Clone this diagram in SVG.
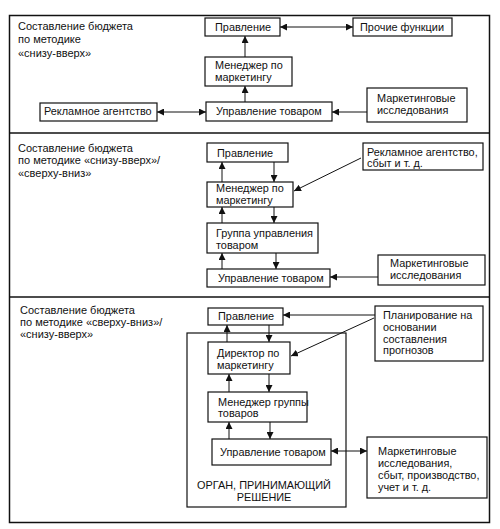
<svg xmlns="http://www.w3.org/2000/svg" width="500" height="529" viewBox="0 0 500 529">
<defs>
<marker id="ah" viewBox="0 0 10 10" refX="10" refY="5" markerWidth="7" markerHeight="7" markerUnits="userSpaceOnUse" orient="auto-start-reverse">
<path d="M0,0 L10,5 L0,10 z" fill="#111"/>
</marker>
</defs>
<style>
.frame{fill:none;stroke:#111;stroke-width:1.5}
.box rect{fill:#fff;stroke:#111;stroke-width:1.2}
text{font-family:"Liberation Sans",Arial,sans-serif;font-size:10.9px;fill:#111}
.title{font-size:11px}
.c line{stroke:#111;stroke-width:1}
.c .a{marker-end:url(#ah)}
.c .b{marker-start:url(#ah);marker-end:url(#ah)}
</style>
<rect width="500" height="529" fill="#fff"/>
<g id="frame">
<rect class="frame" x="9.5" y="15.5" width="480" height="507"/>
<line class="frame" x1="9.5" y1="133" x2="489.5" y2="133"/>
<line class="frame" x1="9.5" y1="297" x2="489.5" y2="297"/>
</g>
<g id="titles">
<text class="title" x="18" y="30">Составление бюджета</text>
<text class="title" x="18" y="43">по методике</text>
<text class="title" x="18" y="57">«снизу-вверх»</text>
<text class="title" x="18" y="152">Составление бюджета</text>
<text class="title" x="18" y="164">по методике «снизу-вверх»/</text>
<text class="title" x="18" y="177">«сверху-вниз»</text>
<text class="title" x="20" y="314">Составление бюджета</text>
<text class="title" x="20" y="326">по методике «сверху-вниз»/</text>
<text class="title" x="20" y="338">«снизу-вверх»</text>
</g>
<g id="organ">
<rect x="187" y="333" width="159" height="174" fill="none" stroke="#111" stroke-width="1.2"/>
<text x="264" y="489" text-anchor="middle">ОРГАН, ПРИНИМАЮЩИЙ</text>
<text x="264" y="501" text-anchor="middle">РЕШЕНИЕ</text>
</g>
<g id="connectors" class="c">
<line class="b" x1="280" y1="27" x2="353" y2="27"/>
<line class="a" x1="245" y1="57" x2="245" y2="36"/>
<line class="a" x1="245" y1="102" x2="245" y2="86"/>
<line class="b" x1="157" y1="112" x2="206" y2="112"/>
<line class="a" x1="367" y1="112" x2="332" y2="112"/>

<line class="a" x1="222" y1="182" x2="222" y2="162"/>
<line class="a" x1="274" y1="162" x2="274" y2="182"/>
<line class="a" x1="222" y1="223" x2="222" y2="207"/>
<line class="a" x1="274" y1="207" x2="274" y2="223"/>
<line class="a" x1="222" y1="269" x2="222" y2="253"/>
<line class="a" x1="276" y1="253" x2="276" y2="269"/>
<line class="a" x1="361" y1="158" x2="294" y2="191"/>
<line class="a" x1="378" y1="277" x2="330" y2="277"/>

<line class="a" x1="227" y1="342" x2="227" y2="325"/>
<line class="a" x1="269" y1="325" x2="269" y2="342"/>
<line class="a" x1="229" y1="392" x2="229" y2="374"/>
<line class="a" x1="269" y1="374" x2="269" y2="392"/>
<line class="a" x1="229" y1="439" x2="229" y2="422"/>
<line class="a" x1="270" y1="422" x2="270" y2="439"/>
<line class="a" x1="375" y1="315" x2="283" y2="315"/>
<line class="a" x1="374" y1="318" x2="291" y2="356"/>
<line class="b" x1="331" y1="451" x2="367" y2="451"/>
</g>
<g id="s1-pravlenie" class="box"><rect x="205" y="18" width="75" height="18"/><text x="215" y="31">Правление</text></g>
<g id="s1-prochie" class="box"><rect x="353" y="18" width="99" height="18"/><text x="360" y="31">Прочие функции</text></g>
<g id="s1-manager" class="box"><rect x="205" y="57" width="87" height="29"/><text x="215" y="69">Менеджер по</text><text x="215" y="81">маркетингу</text></g>
<g id="s1-upravlenie" class="box"><rect x="206" y="102" width="126" height="19"/><text x="216" y="115">Управление товаром</text></g>
<g id="s1-reklama" class="box"><rect x="40" y="103" width="117" height="18"/><text x="44" y="115">Рекламное агентство</text></g>
<g id="s1-issled" class="box"><rect x="367" y="88" width="100" height="34"/><text x="377" y="102">Маркетинговые</text><text x="377" y="114">исследования</text></g>

<g id="s2-pravlenie" class="box"><rect x="207" y="143" width="81" height="19"/><text x="217" y="157">Правление</text></g>
<g id="s2-manager" class="box"><rect x="207" y="182" width="86" height="25"/><text x="216" y="192">Менеджер по</text><text x="216" y="204">маркетингу</text></g>
<g id="s2-gruppa" class="box"><rect x="207" y="223" width="111" height="30"/><text x="216" y="237">Группа управления</text><text x="216" y="249">товаром</text></g>
<g id="s2-upravlenie" class="box"><rect x="207" y="269" width="123" height="18"/><text x="218" y="282">Управление товаром</text></g>
<g id="s2-reklama" class="box"><rect x="363" y="143" width="120" height="27"/><text x="367" y="156">Рекламное агентство,</text><text x="367" y="167">сбыт и т. д.</text></g>
<g id="s2-issled" class="box"><rect x="378" y="255" width="107" height="30"/><text x="390" y="267">Маркетинговые</text><text x="390" y="279">исследования</text></g>

<g id="s3-pravlenie" class="box"><rect x="208" y="308" width="75" height="17"/><text x="218" y="320">Правление</text></g>
<g id="s3-director" class="box"><rect x="208" y="342" width="82" height="32"/><text x="217" y="357">Директор по</text><text x="217" y="369">маркетингу</text></g>
<g id="s3-manager" class="box"><rect x="208" y="392" width="99" height="30"/><text x="218" y="406">Менеджер группы</text><text x="218" y="417">товаров</text></g>
<g id="s3-upravlenie" class="box"><rect x="212" y="439" width="119" height="26"/><text x="220" y="456">Управление товаром</text></g>
<g id="s3-plan" class="box"><rect x="375" y="306" width="108" height="55"/><text x="383" y="319">Планирование на</text><text x="383" y="331">основании</text><text x="383" y="343">составления</text><text x="383" y="354">прогнозов</text></g>
<g id="s3-issled" class="box"><rect x="367" y="437" width="120" height="61"/><text x="378" y="455">Маркетинговые</text><text x="378" y="467">исследования,</text><text x="378" y="479">сбыт, производство,</text><text x="378" y="491">учет и т. д.</text></g>
</svg>
